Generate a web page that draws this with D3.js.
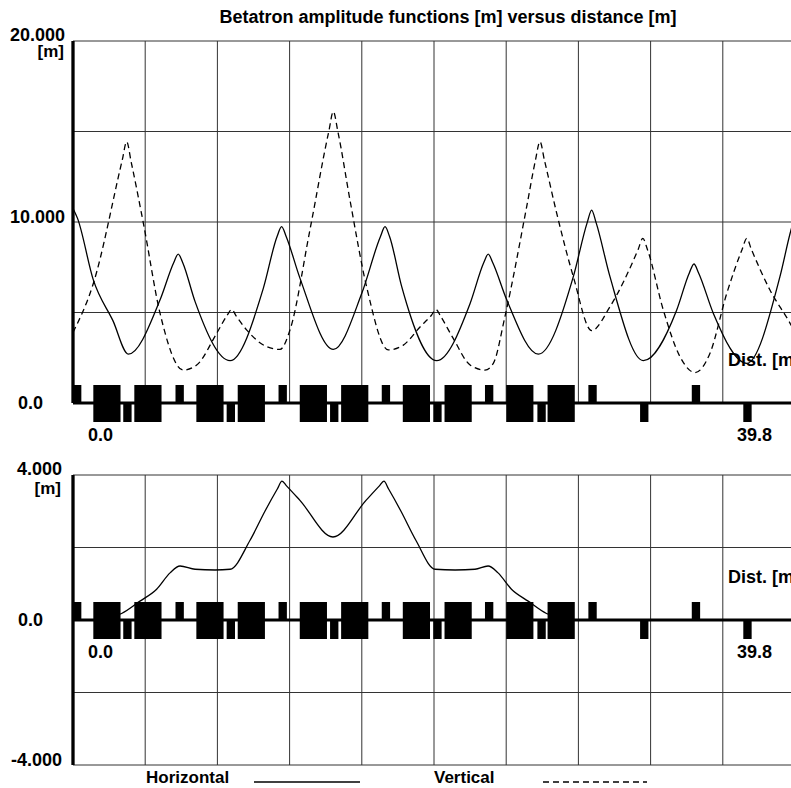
<!DOCTYPE html>
<html>
<head>
<meta charset="utf-8">
<script src="https://cdn.jsdelivr.net/npm/d3@7"></script>
<style>
body { margin: 0; background: #fff; }
svg text { font-family: "Liberation Sans", Arial, sans-serif; font-weight: bold; fill: #000; }
</style>
</head>
<body>
<svg id="chart" width="791" height="788"></svg>
<script>
// lattice length [m]
const s_max = 39.8

// horizontal beta function
const beta_x_s = [0, 0.25, 1.12, 2.2, 3.05, 4.80, 5.55, 5.80, 6.05, 6.73, 8.66, 10.49, 11.25, 11.50, 11.75,
                  12.51, 14.35, 15.92, 16.95, 17.20, 17.45, 18.12, 20.05, 21.89, 22.64, 22.89, 23.14, 23.91,
                  25.65, 27.58, 28.34, 28.59, 28.84, 29.60, 31.44, 33.28, 33.98, 34.23, 34.48, 35.30, 37.14,
                  38.97, 39.58, 39.8]
const beta_x   = [10.75, 10.2, 6.8, 4.55, 2.7, 5.7, 7.75, 8.23, 7.75, 5.6, 2.34, 6.33, 9.2, 9.74, 9.2,
                  6.9, 2.96, 6.06, 9.2, 9.74, 9.2, 6.43, 2.34, 5.5, 7.75, 8.23, 7.75, 5.7,
                  2.7, 6.98, 9.95, 10.66, 9.95, 6.98, 2.34, 5.14, 7.2, 7.68, 7.2, 4.95, 2.19,
                  6.98, 9.56, 10.3]

// vertical beta function
const beta_y_s = [0, 1.12, 2.71, 2.96, 3.21, 3.88, 4.80, 6.08, 6.82, 7.92, 8.5, 8.75, 9.0, 9.58, 10.68,
                  11.41, 11.96, 13.06, 14.10, 14.35, 14.60, 15.27, 16.19, 17.38, 18.21, 19.13, 19.76, 20.01,
                  20.26, 20.96, 21.89, 22.71, 23.17, 23.81, 25.01, 25.49, 25.74, 25.99, 26.66, 27.58, 28.59,
                  29.60, 31.16, 31.41, 31.66, 32.54, 33.46, 34.29, 35.11, 36.04, 36.89, 37.14, 37.39, 38.42,
                  39.53, 39.8]
const beta_y   = [3.9, 6.6, 13.4, 14.44, 13.3, 9.93, 4.95, 1.82, 2.1, 3.85, 4.85, 5.17, 4.8, 4.03, 3.11,
                  2.96, 4.03, 9.56, 15.0, 16.1, 15.0, 11.2, 6.4, 2.93, 3.2, 4.2, 4.85, 5.17,
                  4.8, 3.57, 2.1, 1.82, 2.19, 4.77, 10.85, 13.4, 14.44, 13.4, 10.5, 6.98, 4.0,
                  5.32, 8.5, 9.1, 8.5, 5.14, 2.56, 1.68, 2.74, 6.06, 8.5, 9.1, 8.5, 6.24,
                  4.4, 3.9]

// horizontal dispersion
const disp_s = [0, 1.12, 2.04, 2.68, 3.69, 4.61, 5.35, 5.90, 6.73, 7.83, 8.66, 9.76, 10.58, 11.27, 11.52,
                11.77, 12.51, 14.33, 16.15, 16.89, 17.14, 17.39, 18.08, 18.90, 19.96, 21.06, 22.16, 22.88,
                23.43, 24.17, 25.09, 26.10, 26.74, 27.67, 39.8]
const disp   = [0, 0, 0.08, 0.18, 0.52, 0.85, 1.3, 1.49, 1.40, 1.38, 1.40, 2.2, 3.0, 3.62, 3.83,
                3.70, 3.3, 2.29, 3.3, 3.70, 3.83, 3.62, 3.0, 2.2, 1.40, 1.38, 1.40, 1.49,
                1.3, 0.85, 0.52, 0.18, 0.08, 0, 0]

// lattice elements (start positions in m)
const qf_start = [0.0, 5.65, 11.33, 17.02, 22.71, 28.41, 34.11]
const qd_start = [2.77, 8.47, 14.17, 19.86, 25.60, 31.26, 36.95]
const bend_start = [1.12, 3.38, 6.80, 9.08, 12.50, 14.78, 18.18, 20.48, 23.88, 26.16]
const quad_len = 0.46
const bend_len = 1.5

const top_ticks = [20, 10, 0]
const top_tick_labels = ['20.000', '10.000', '0.0']
const bot_ticks = [4, 0, -4]
const bot_tick_labels = ['4.000', '0.0', '-4.000']
const s_labels = ['0.0', '39.8']

const svg = d3.select('#chart')
const x = d3.scaleLinear([0, s_max], [73, 795])
const y_top = d3.scaleLinear([0, 20], [403, 41])
const y_bot = d3.scaleLinear([-4, 4], [765, 475])

svg.append('text')
   .attr('x', 448).attr('y', 23)
   .attr('text-anchor', 'middle')
   .attr('font-size', 18)
   .text('Betatron amplitude functions [m] versus distance [m]')

function draw_panel(y, ticks, tick_labels, label_right, unit_dy) {
    const [y0, y1] = y.domain()
    const g = svg.append('g')
    // grid, 4 rows and 10 columns
    const rows = d3.range(0, 5).map(i => y0 + (y1 - y0) * i / 4)
    const cols = d3.range(0, 11).map(i => s_max * i / 10)
    g.append('g').selectAll('line').data(rows).join('line')
       .attr('x1', x(0)).attr('x2', x(s_max))
       .attr('y1', d => y(d)).attr('y2', d => y(d))
       .attr('stroke', '#333').attr('stroke-width', 1)
    g.append('g').selectAll('line').data(cols).join('line')
       .attr('x1', d => x(d)).attr('x2', d => x(d))
       .attr('y1', y(y1)).attr('y2', y(y0))
       .attr('stroke', '#333').attr('stroke-width', 1)

    // lattice along the zero line
    const y_zero = y(0)
    const elements = g.append('g').attr('fill', '#000')
    elements.selectAll('rect.qf').data(qf_start).join('rect')
       .attr('class', 'qf')
       .attr('x', d => x(d)).attr('width', d => x(d + quad_len) - x(d))
       .attr('y', y_zero - 18).attr('height', 18)
    elements.selectAll('rect.qd').data(qd_start).join('rect')
       .attr('class', 'qd')
       .attr('x', d => x(d)).attr('width', d => x(d + quad_len) - x(d))
       .attr('y', y_zero).attr('height', 19)
    elements.selectAll('rect.bend').data(bend_start).join('rect')
       .attr('class', 'bend')
       .attr('x', d => x(d)).attr('width', d => x(d + bend_len) - x(d))
       .attr('y', y_zero - 18).attr('height', 37)

    // zero line and left axis
    g.append('line')
       .attr('x1', x(0)).attr('x2', x(s_max))
       .attr('y1', y_zero).attr('y2', y_zero)
       .attr('stroke', '#000').attr('stroke-width', 3)
    g.append('line')
       .attr('x1', x(0)).attr('x2', x(0))
       .attr('y1', y(y1)).attr('y2', y(y0))
       .attr('stroke', '#000').attr('stroke-width', 3.3)

    // y labels, the top one sits just above its line
    g.append('g').selectAll('text').data(ticks).join('text')
       .attr('font-size', 18)
       .attr('text-anchor', d => d == 0 ? 'start' : 'end')
       .attr('x', d => d == 0 ? 18 : label_right)
       .attr('y', d => d == 0 ? y(d) + 6 : (d == y1 ? y(d) : y(d) + 1))
       .text((d, i) => tick_labels[i])
    g.append('text')
       .attr('font-size', 17).attr('text-anchor', 'end')
       .attr('x', label_right - 1).attr('y', y(y1) + unit_dy)
       .text('[m]')

    // distance labels
    g.append('text').attr('font-size', 18)
       .attr('x', x(0) + 15).attr('y', y_zero + 38)
       .text(s_labels[0])
    g.append('text').attr('font-size', 18).attr('text-anchor', 'end')
       .attr('x', x(s_max) - 23).attr('y', y_zero + 38)
       .text(s_labels[1])
    g.append('text').attr('font-size', 18)
       .attr('x', 728).attr('y', y_zero - 37)
       .text('Dist. [m]')
    return g
}

function draw_curve(g, y, s, v, dashed) {
    const line = d3.line()
        .x(i => x(s[i]))
        .y(i => y(v[i]))
        .curve(d3.curveMonotoneX)
    g.append('path')
       .attr('d', line(d3.range(s.length)))
       .attr('fill', 'none')
       .attr('stroke', '#000')
       .attr('stroke-width', 1.3)
       .attr('stroke-dasharray', dashed ? '6,4' : null)
}

const top_panel = draw_panel(y_top, top_ticks, top_tick_labels, 65, 16)
draw_curve(top_panel, y_top, beta_x_s, beta_x, false)
draw_curve(top_panel, y_top, beta_y_s, beta_y, true)

const bot_panel = draw_panel(y_bot, bot_ticks, bot_tick_labels, 62, 19)
draw_curve(bot_panel, y_bot, disp_s, disp, false)

// legend
const legend = svg.append('g')
legend.append('text').attr('font-size', 17).attr('x', 146).attr('y', 783).text('Horizontal')
legend.append('line').attr('x1', 254).attr('x2', 360).attr('y1', 782).attr('y2', 782)
      .attr('stroke', '#000').attr('stroke-width', 1.3)
legend.append('text').attr('font-size', 17).attr('x', 434).attr('y', 783).text('Vertical')
legend.append('line').attr('x1', 543).attr('x2', 647).attr('y1', 782).attr('y2', 782)
      .attr('stroke', '#000').attr('stroke-width', 1.3).attr('stroke-dasharray', '6,4')
</script>
</body>
</html>
